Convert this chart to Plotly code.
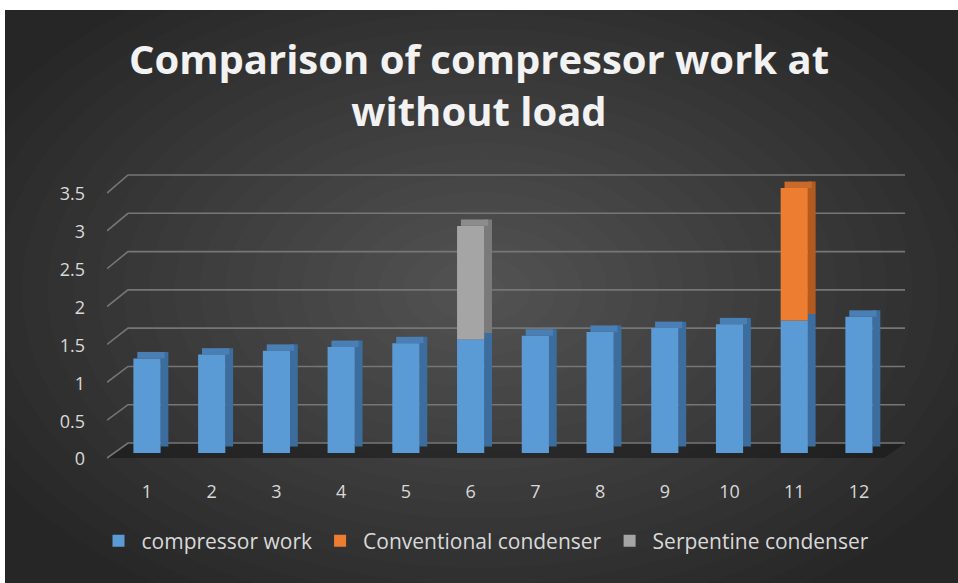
import plotly.graph_objects as go

# ---------------- data ----------------
categories = ["1", "2", "3", "4", "5", "6", "7", "8", "9", "10", "11", "12"]
compressor_work = [1.25, 1.30, 1.35, 1.40, 1.45, 1.50, 1.55, 1.60, 1.65, 1.70, 1.75, 1.80]
conventional_condenser = [None, None, None, None, None, None, None, None, None, None, 1.75, None]
serpentine_condenser = [None, None, None, None, None, 1.50, None, None, None, None, None, None]
y_ticks = [0, 0.5, 1, 1.5, 2, 2.5, 3, 3.5]
y_tick_labels = ["0", "0.5", "1", "1.5", "2", "2.5", "3", "3.5"]

# ---------------- styling ----------------
W, H = 958, 583
ML, MR, MT, MB = 107, 53, 165, 111
FONT = "Open Sans"
TXT = "#d9d9d9"
PXU = 75.7                       # pixels per data unit (front face)
BW = 0.42                        # front face width (category units)
SW = 0.12                        # side depth width
DZ = 0.085                       # depth rise (data units)
Y_LO = -(H - MB - 453) / PXU     # bars axis bottom (front base at px 453)
Y_HI = (453 - MT) / PXU
LABEL_SHIFT = 0.08               # tick labels sit slightly lower (front edge)
X_LO, X_HI = -0.618, 11.711
X_BACK_L = X_LO + 21 / 64.73     # back wall left edge
X_FRONT_R = X_HI - 21 / 64.73
BACK_OFF, BACK_SCALE = 0.132, 1.0115
FRONT_OFF = -0.066

def back_y(v):
    return BACK_OFF + BACK_SCALE * v

def front_y(v):
    return FRONT_OFF + v

xpos = list(range(len(categories)))

series = [
    ("compressor work", compressor_work, "#5b9bd5", "#3b6d9e", "#4a7fb5"),
    ("Conventional condenser", conventional_condenser, "#ed7d31", "#b35b1f", "#c96a2a"),
    ("Serpentine condenser", serpentine_condenser, "#a5a5a5", "#7a7a7a", "#8c8c8c"),
]

bases = {
    "compressor work": [0] * len(categories),
    "Conventional condenser": list(compressor_work),
    "Serpentine condenser": list(compressor_work),
}

def top_series(i):
    if conventional_condenser[i]:
        return "Conventional condenser"
    if serpentine_condenser[i]:
        return "Serpentine condenser"
    return "compressor work"

fig = go.Figure()

# side faces
for name, vals, front, side, top in series:
    b = bases[name]
    fig.add_trace(go.Bar(
        x=xpos, y=vals, base=[bb + DZ for bb in b],
        offset=BW / 2, width=SW, marker=dict(color=side, line=dict(width=0)),
        showlegend=False, hoverinfo="skip"))

# top faces
for name, vals, front, side, top in series:
    b = bases[name]
    tops = [(b[i] + vals[i]) if (vals[i] and top_series(i) == name) else None for i in range(len(categories))]
    fig.add_trace(go.Bar(
        x=xpos, y=[DZ if t is not None else None for t in tops], base=tops,
        offset=-BW / 2 + SW / 2, width=BW, marker=dict(color=top, line=dict(width=0)),
        showlegend=False, hoverinfo="skip"))

# front faces
for name, vals, front, side, top in series:
    b = bases[name]
    fig.add_trace(go.Bar(
        x=xpos, y=vals, base=b, name=name,
        offset=-BW / 2, width=BW,
        marker=dict(color=front, line=dict(width=0))))

# invisible trace to show the tick-label axis
fig.add_trace(go.Scatter(x=[xpos[0]], y=[None], yaxis="y2", showlegend=False, hoverinfo="skip"))

PW = W - ML - MR
PH = H - MT - MB
def px(x):
    return (x - ML) / PW
def py(y):
    return (H - MB - y) / PH

shapes = [
    dict(type="rect", xref="paper", yref="paper", x0=px(5), x1=px(W + 5), y0=py(10), y1=py(H + 5),
         fillcolor="#262626", line=dict(width=0), layer="below"),
]
n = 22
for k in range(n):
    f = 1 - k / n
    rx, ry = 560 * f, 360 * f
    cx, cy = 480, 290
    shapes.append(dict(type="circle", xref="paper", yref="paper",
                       x0=px(cx - rx), x1=px(cx + rx), y0=py(cy + ry), y1=py(cy - ry),
                       fillcolor="rgba(255,255,255,0.011)", line=dict(width=0), layer="below"))

# floor (shadow), in data coordinates
f0, b0 = front_y(y_ticks[0]), back_y(y_ticks[0])
shapes.append(dict(type="path", xref="x", yref="y", layer="below",
                   path=f"M {X_LO},{f0} L {X_FRONT_R},{f0} L {X_HI},{b0} L {X_BACK_L},{b0} Z",
                   fillcolor="rgba(18,18,18,0.5)", line=dict(width=0)))

# back-wall gridlines and side-wall diagonals
for v in y_ticks:
    shapes.append(dict(type="path", xref="x", yref="y", layer="below",
                       path=f"M {X_LO},{front_y(v)} L {X_BACK_L},{back_y(v)} L {X_HI},{back_y(v)}",
                       line=dict(color="#767676", width=1.6)))

fig.update_layout(
    width=W, height=H,
    margin=dict(l=ML, r=MR, t=MT, b=MB, pad=0),
    paper_bgcolor="white", plot_bgcolor="rgba(0,0,0,0)",
    barmode="overlay",
    title=dict(text="Comparison of compressor work at<br>without load",
               x=0.5, xref="container", xanchor="center",
               y=1 - 74 / H, yref="container", yanchor="top",
               font=dict(family=FONT, size=40, color="#f2f2f2", weight="bold")),
    xaxis=dict(range=[X_LO, X_HI], tickvals=xpos, ticktext=categories,
               showgrid=False, zeroline=False, showline=False,
               tickfont=dict(family=FONT, size=18, color=TXT), ticks="", ticklabelstandoff=7),
    yaxis=dict(range=[Y_LO, Y_HI], showgrid=False, zeroline=False, showline=False,
               showticklabels=False, ticks=""),
    yaxis2=dict(overlaying="y", range=[Y_LO + LABEL_SHIFT, Y_HI + LABEL_SHIFT],
                tickvals=y_ticks, ticktext=y_tick_labels, showgrid=False, zeroline=False,
                showline=False, ticks="", ticklabelstandoff=21, side="left",
                tickfont=dict(family=FONT, size=18, color=TXT)),
    legend=dict(orientation="h", x=px(485), xanchor="center", y=py(541), yanchor="middle",
                font=dict(family=FONT, size=21, color=TXT), bgcolor="rgba(0,0,0,0)",
                traceorder="normal", itemwidth=36),
    shapes=shapes,
    showlegend=True,
)

fig.write_html("out.html", config={"displayModeBar": False},
               post_script="document.body.style.margin='0';")
